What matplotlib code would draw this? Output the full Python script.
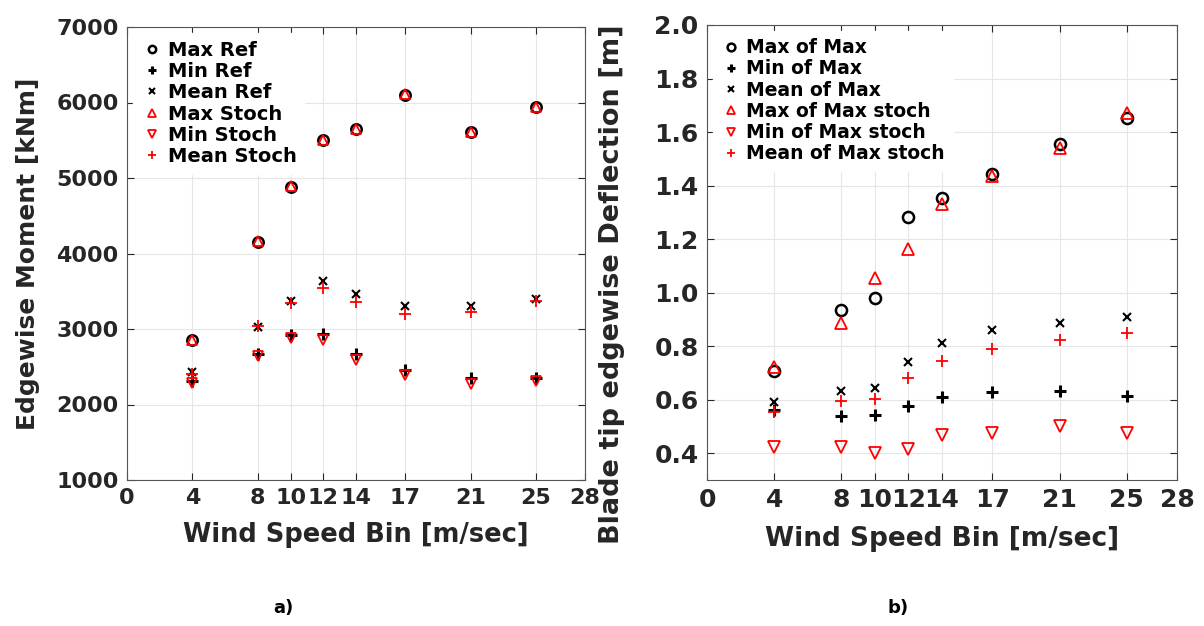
import matplotlib.pyplot as plt

wind = [4, 8, 10, 12, 14, 17, 21, 25]

# edgewise moment [kNm]
max_ref = [2850, 4155, 4885, 5500, 5650, 6105, 5605, 5935]
min_ref = [2310, 2665, 2920, 2935, 2675, 2455, 2350, 2350]
mean_ref = [2430, 3020, 3375, 3635, 3470, 3305, 3305, 3400]
max_stoch = [2850, 4160, 4890, 5500, 5655, 6110, 5610, 5940]
min_stoch = [2285, 2645, 2875, 2855, 2585, 2395, 2275, 2310]
mean_stoch = [2405, 3040, 3340, 3540, 3355, 3200, 3220, 3370]

# blade tip edgewise deflection [m]
max_max = [0.707, 0.937, 0.98, 1.284, 1.353, 1.443, 1.557, 1.653]
min_max = [0.562, 0.540, 0.544, 0.576, 0.611, 0.627, 0.631, 0.613]
mean_max = [0.593, 0.631, 0.644, 0.740, 0.811, 0.860, 0.887, 0.909]
max_max_st = [0.722, 0.887, 1.053, 1.164, 1.333, 1.436, 1.540, 1.670]
min_max_st = [0.424, 0.424, 0.402, 0.417, 0.467, 0.477, 0.500, 0.477]
mean_max_st = [0.553, 0.597, 0.604, 0.680, 0.744, 0.791, 0.824, 0.849]

txt = '#262626'
plt.rcParams['font.family'] = 'DejaVu Sans'
plt.rcParams['font.weight'] = 'bold'

fig = plt.figure(figsize=(12.04, 6.26), dpi=100)
ax1 = fig.add_axes([127 / 1204, 1 - 480 / 626, 458 / 1204, 453 / 626])
ax2 = fig.add_axes([707 / 1204, 1 - 480 / 626, 470 / 1204, 455 / 626])


def draw(ax, series, labels, ylim, yticks, yfmt, tick_fs, xlab_fs, ylab_fs, ylabel, leg_fs, ms):
    styles = [
        dict(marker='o', mfc='none', mec='black', ms=ms, mew=1.8),
        dict(marker='+', color='black', ms=ms + 1, mew=2.2),
        dict(marker='x', color='black', ms=ms - 2, mew=1.5),
        dict(marker='^', mfc='none', mec='red', ms=ms, mew=1.3),
        dict(marker='v', mfc='none', mec='red', ms=ms, mew=1.3),
        dict(marker='+', color='red', ms=ms + 1, mew=1.3),
    ]
    for vals, lab, st in zip(series, labels, styles):
        ax.plot(wind, vals, ls='none', label=lab, **st)
    ax.set_xlim(0, 28)
    ax.set_ylim(*ylim)
    ax.set_xticks([0, 4, 8, 10, 12, 14, 17, 21, 25, 28])
    ax.set_yticks(yticks)
    ax.set_yticklabels([yfmt.format(v) for v in yticks])
    ax.grid(True, color='#e6e6e6', lw=0.8)
    ax.set_axisbelow(True)
    ax.tick_params(direction='in', top=True, right=True, length=5,
                   labelsize=tick_fs, colors=txt, pad=6)
    for lbl in ax.get_xticklabels() + ax.get_yticklabels():
        lbl.set_fontweight('bold')
    for sp in ax.spines.values():
        sp.set_color('#555555')
    ax.set_xlabel('Wind Speed Bin [m/sec]', fontsize=xlab_fs, fontweight='bold',
                  color=txt, labelpad=10)
    ax.set_ylabel(ylabel, fontsize=ylab_fs, fontweight='bold', color=txt)
    leg = ax.legend(loc='upper left', fontsize=leg_fs, handletextpad=0.2,
                    labelspacing=0.12, borderaxespad=0.3, markerscale=0.7,
                    handlelength=1.2, fancybox=False, framealpha=1)
    leg.get_frame().set_edgecolor('white')
    for t in leg.get_texts():
        t.set_fontweight('bold')


draw(ax1, [max_ref, min_ref, mean_ref, max_stoch, min_stoch, mean_stoch],
     ['Max Ref', 'Min Ref', 'Mean Ref', 'Max Stoch', 'Min Stoch', 'Mean Stoch'],
     (1000, 7000), list(range(1000, 7001, 1000)), '{:d}', 16, 18.5, 18,
     'Edgewise Moment [kNm]', 14, 7.5)
ax1.yaxis.set_label_coords(-0.19, 0.5)
draw(ax2, [max_max, min_max, mean_max, max_max_st, min_max_st, mean_max_st],
     ['Max of Max', 'Min of Max', 'Mean of Max', 'Max of Max stoch',
      'Min of Max stoch', 'Mean of Max stoch'],
     (0.3, 2.0), [0.4, 0.6, 0.8, 1.0, 1.2, 1.4, 1.6, 1.8, 2.0], '{:.1f}', 18, 19, 19.5,
     'Blade tip edgewise Deflection [m]', 13.5, 8)
ax2.yaxis.set_label_coords(-0.175, 0.43)

fig.text(283 / 1204, 1 - 608 / 626, 'a)', fontsize=13, fontweight='bold', ha='center', va='center')
fig.text(898 / 1204, 1 - 608 / 626, 'b)', fontsize=13, fontweight='bold', ha='center', va='center')

fig.savefig('out.png', dpi=100)
